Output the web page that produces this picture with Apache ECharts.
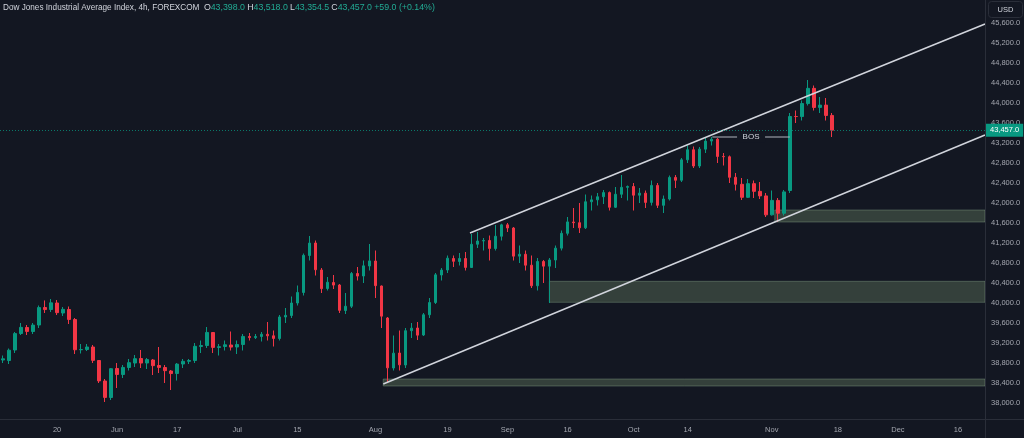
<!DOCTYPE html>
<html>
<head>
<meta charset="utf-8">
<script src="https://cdn.jsdelivr.net/npm/echarts@6/dist/echarts.min.js"></script>
<style>
html,body{margin:0;padding:0;background:#131722;}
#chart{width:1024px;height:438px;}
</style>
</head>
<body>
<div id="chart"></div>
<script>
// ---- trading-day calendar (weekdays, FOREXCOM CFD trades on US holidays) ----
const calendar = [
  ['2024-05', [7,8,9,10,13,14,15,16,17,20,21,22,23,24,27,28,29,30,31]],
  ['2024-06', [3,4,5,6,7,10,11,12,13,14,17,18,19,20,21,24,25,26,27,28]],
  ['2024-07', [1,2,3,4,5,8,9,10,11,12,15,16,17,18,19,22,23,24,25,26,29,30,31]],
  ['2024-08', [1,2,5,6,7,8,9,12,13,14,15,16,19,20,21,22,23,26,27,28,29,30]],
  ['2024-09', [2,3,4,5,6,9,10,11,12,13,16,17,18,19,20,23,24,25,26,27,30]],
  ['2024-10', [1,2,3,4,7,8,9,10,11,14,15,16,17,18,21,22,23,24,25,28,29,30,31]],
  ['2024-11', [1,4,5,6,7,8,11,12,13,14,15,18,19,20,21,22,25,26,27,28,29]],
  ['2024-12', [2,3,4,5,6,9,10,11,12,13,16,17,18,19,20]]
];

// ---- price series (approx. daily OHLC) ----
const openP = [38860,38850,39060,39390,39510,39430,39560,39910,39870,40000,
  39800,39870,39670,39065,39070,39120,38850,38440,38110,38690,
  38570,38710,38800,38890,38800,38860,38750,38710,38640,38590,
  38780,38834,38850,39130,39150,39410,39110,39130,39160,39120,
  39170,39330,39308,39330,39375,39344,39290,39720,39750,40000,
  40210,40950,41200,40660,40290,40410,40360,39850,39935,40590,
  40540,40740,40840,40340,39700,38700,39000,38760,39446,39500,
  39360,39765,40010,40560,40660,40890,40830,40890,40710,41175,
  41240,41250,41090,41335,41563,41500,40937,40975,40756,40345,
  40830,40737,40860,41097,41394,41620,41606,41504,42025,42063,
  42125,42208,41915,42175,42313,42330,42156,42197,42012,42352,
  41954,42080,42512,42455,42864,43065,42740,43077,43239,43276,
  42931,42925,42514,42374,42114,42387,42233,42142,41763,42052,
  41795,42250,43730,43729,43989,44293,43911,43958,43751];
const closeP = [38884,39056,39388,39513,39432,39558,39908,39869,40003,39807,
  39873,39671,39065,39070,39120,38853,38442,38112,38686,38571,
  38711,38807,38886,38799,38868,38747,38712,38647,38589,38778,
  38834,38850,39134,39150,39411,39112,39127,39164,39118,39169,
  39331,39308,39330,39375,39344,39291,39721,39753,40000,40211,
  40954,41198,40665,40287,40415,40358,39853,39935,40589,40539,
  40743,40842,40347,39737,38703,38997,38763,39446,39497,39357,
  39765,40009,40563,40659,40896,40834,40890,40712,41175,41240,
  41250,41091,41335,41563,41500,40937,40975,40756,40345,40830,
  40737,40861,41097,41394,41622,41606,41504,42025,42063,42125,
  42208,41915,42175,42313,42330,42156,42197,42012,42352,41954,
  42080,42512,42455,42864,43065,42740,43077,43239,43276,42931,
  42925,42514,42374,42114,42387,42233,42142,41763,42052,41795,
  42222,43730,43729,43989,44293,43911,43958,43751,43457];
const lowP = [38800,38780,39000,39360,39360,39380,39500,39800,39820,39760,
  39740,39580,38980,38990,39040,38800,38400,38020,38060,38300,
  38500,38650,38720,38700,38680,38560,38600,38400,38260,38450,
  38700,38780,38800,39000,39100,39000,38950,39050,39050,38980,
  39050,39250,39280,39230,39250,39130,39250,39600,39700,39950,
  40150,40850,40550,40200,40250,40280,39800,39780,39900,40450,
  40400,40650,40100,39500,38400,38650,38650,38700,39300,39260,
  39340,39700,39980,40450,40600,40720,40750,40650,40700,41100,
  41050,40850,41050,41250,41420,40850,40800,40650,40300,40250,
  40400,40000,40700,41050,41350,41500,41400,41480,41850,41950,
  41980,41850,41900,42100,42050,41850,42000,41900,41950,41900,
  41800,42050,42300,42420,42800,42700,42700,43000,43150,42800,
  42750,42400,42250,42060,42100,42100,42080,41720,41750,41620,
  41750,42200,43600,43650,43950,43850,43800,43650,43320];
const highP = [38950,39090,39420,39600,39560,39600,39950,40051,40080,40060,
  39920,39930,39700,39180,39180,39160,38860,38480,38700,38800,
  38760,38880,38960,39060,38900,38880,39120,38760,38660,38800,
  38880,38880,39200,39250,39520,39420,39180,39250,39430,39250,
  39380,39400,39380,39420,39620,39450,39760,39900,40130,40350,
  40990,41340,41250,40700,40520,40560,40380,40200,40620,40720,
  40850,41180,41050,40350,39720,39350,39450,39500,39600,39620,
  39800,40100,40600,40700,40950,40950,41000,41020,41380,41420,
  41300,41350,41560,41585,41600,41520,41150,41050,40950,40900,
  40860,40900,41150,41450,41720,41900,42000,42170,42150,42200,
  42260,42230,42320,42560,42350,42400,42300,42250,42450,42400,
  42150,42550,42560,42900,43150,43130,43120,43320,43320,43300,
  43000,42950,42600,42500,42480,42450,42420,42200,42250,42100,
  42260,43800,43850,44050,44460,44350,44120,44100,43800];

// ---- last bar header ----
const headerNames = ['O','H','L','C'];
const headerValues = ['43,398.0','43,518.0','43,354.5','43,457.0'];
const headerChange = '+59.0 (+0.14%)';
const lastPrice = 43457.0;

// ---- drawings (x = trading-day index, y = price) ----
const upperChannel = [[77.75, 41400], [163.5, 45580]];
const lowerChannel = [[63.32, 38380], [163.5, 43360]];
const bosLine = [[118.1, 43320], [131.0, 43320]];
const zoneStart = [128.5, 90.96, 63.3];
const zoneLow = [41620, 40014, 38340];
const zoneHigh = [41860, 40434, 38480];

// ---- tick labels ----
const xTicks = [['2024-05-20','20'],['2024-06-03','Jun'],['2024-06-17','17'],['2024-07-01','Jul'],
  ['2024-07-15','15'],['2024-08-01','Aug'],['2024-08-19','19'],['2024-09-02','Sep'],['2024-09-16','16'],
  ['2024-10-01','Oct'],['2024-10-14','14'],['2024-11-01','Nov'],['2024-11-18','18'],['2024-12-02','Dec'],
  ['2024-12-16','16']];
const yTicks = [38000,38400,38800,39200,39600,40000,40400,40800,41200,41600,42000,42400,42800,43200,43600,44000,44400,44800,45200,45600];

// ---- build ----
const categories = [];
calendar.forEach(([m, days]) => days.forEach(d => categories.push(m + '-' + String(d).padStart(2,'0'))));
const xTickMap = {};
xTicks.forEach(([d, t]) => xTickMap[d] = t);
const candles = openP.map((o, i) => [o, closeP[i], lowP[i], highP[i]]);
const xMax = categories.length - 0.5;

const BG = '#131722';
const AX = '#a3a6af';
const FONT = 'Liberation Sans, Arial, sans-serif';
const fmt = v => v.toLocaleString('en-US', {minimumFractionDigits:1, maximumFractionDigits:1});

const zoneAreas = zoneStart.map((s, i) => [
  {coord: [s, zoneHigh[i]]},
  {coord: [xMax, zoneLow[i]]}
]);

const chart = echarts.init(document.getElementById('chart'), null, {renderer: 'canvas'});
chart.setOption({
  animation: false,
  backgroundColor: BG,
  textStyle: {fontFamily: FONT},
  title: {
    left: 3, top: 3, padding: 0,
    text: '{n|Dow Jones Industrial Average Index, 4h, FOREXCOM}  ' +
      headerNames.map((n, i) => '{k|' + n + '}{v|' + headerValues[i] + '}').join(' ') +
      ' {v|' + headerChange + '}',
    textStyle: {
      fontSize: 8, fontWeight: 'normal',
      rich: {
        n: {color: '#d1d4dc', fontSize: 8.2, fontWeight: 'normal', fontFamily: FONT},
        k: {color: '#d1d4dc', fontSize: 8.8, fontWeight: 'normal', fontFamily: FONT},
        v: {color: '#22ab94', fontSize: 8.8, fontWeight: 'normal', fontFamily: FONT}
      }
    }
  },
  grid: {left: 0, right: 39, top: 0, height: 420, containLabel: false},
  xAxis: [{
    type: 'category',
    data: categories,
    boundaryGap: true,
    axisLine: {show: false},
    axisTick: {show: false},
    splitLine: {show: false},
    axisLabel: {
      color: AX, fontSize: 7.5, margin: 6, fontFamily: FONT,
      interval: (i, v) => xTickMap[v] !== undefined,
      formatter: v => xTickMap[v] || ''
    }
  }, {
    type: 'value', min: -0.5, max: xMax, show: false
  }],
  yAxis: {
    type: 'value', position: 'right',
    min: 37660, max: 46060, scale: true,
    axisLine: {show: false},
    axisTick: {show: false},
    splitLine: {show: false},
    axisLabel: {
      color: AX, fontSize: 7.5, margin: 6, fontFamily: FONT,
      customValues: yTicks,
      formatter: v => fmt(v)
    }
  },
  series: [
    {
      type: 'line', xAxisIndex: 1, data: [], z: 1,
      markArea: {
        silent: true,
        itemStyle: {color: 'rgba(129,160,120,0.30)', borderColor: 'rgba(150,180,150,0.35)', borderWidth: 1},
        data: zoneAreas
      }
    },
    {
      type: 'candlestick', name: 'DJI', data: candles, z: 2,
      barWidth: 3,
      itemStyle: {color: '#089981', color0: '#f23645', borderColor: '#089981', borderColor0: '#f23645', borderWidth: 1},
      markLine: {
        silent: true, symbol: 'none',
        lineStyle: {color: 'rgba(8,153,129,0.75)', type: [1, 2], width: 1},
        label: {
          position: 'end', distance: 1, formatter: () => fmt(lastPrice),
          color: '#ffffff', backgroundColor: '#089981', padding: [3, 4, 2, 4],
          fontSize: 7.5, fontFamily: FONT
        },
        data: [{yAxis: lastPrice}]
      }
    },
    {
      type: 'line', xAxisIndex: 1, data: upperChannel, z: 3,
      symbol: 'none', lineStyle: {color: '#d1d4dc', width: 1.5}
    },
    {
      type: 'line', xAxisIndex: 1, data: lowerChannel, z: 3,
      symbol: 'none', lineStyle: {color: '#d1d4dc', width: 1.5}
    },
    {
      type: 'line', xAxisIndex: 1, data: bosLine, z: 3,
      symbol: 'none', lineStyle: {color: '#b2b5be', width: 1.2},
      markPoint: {
        symbol: 'rect', symbolSize: [28, 11],
        itemStyle: {color: BG},
        label: {show: true, formatter: 'BOS', color: '#d1d4dc', fontSize: 8, fontFamily: FONT},
        data: [{coord: [(bosLine[0][0] + bosLine[1][0]) / 2, bosLine[0][1]]}]
      }
    }
  ],
  graphic: [
    {type: 'line', shape: {x1: 985.5, y1: 0, x2: 985.5, y2: 438}, style: {stroke: '#2a2e39', lineWidth: 1}, z: 10},
    {type: 'line', shape: {x1: 0, y1: 419.5, x2: 1024, y2: 419.5}, style: {stroke: '#2a2e39', lineWidth: 1}, z: 10},
    {type: 'rect', shape: {x: 988.5, y: 1.5, width: 34, height: 16, r: 3}, style: {fill: BG, stroke: '#2a2e39', lineWidth: 1}, z: 10},
    {type: 'text', x: 1005.5, y: 9.5, style: {text: 'USD', fill: '#d1d4dc', fontSize: 7.5, fontFamily: FONT, align: 'center', verticalAlign: 'middle'}, z: 11}
  ]
});
</script>
</body>
</html>
